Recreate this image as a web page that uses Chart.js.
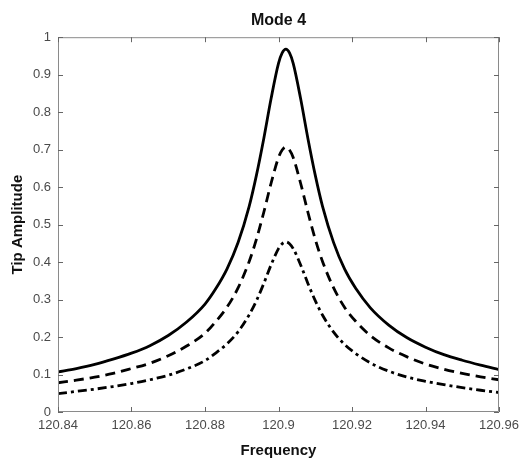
<!DOCTYPE html>
<html>
<head>
<meta charset="utf-8">
<script src="https://cdn.jsdelivr.net/npm/chart.js@4/dist/chart.umd.min.js"></script>
<style>
html,body{margin:0;padding:0;background:#fff;}
#wrap{width:531px;height:463px;}
</style>
</head>
<body>
<div id="wrap"><canvas id="c" width="531" height="463"></canvas></div>
<script>
const frequency = [120.84,120.845,120.85,120.855,120.86,120.865,120.87,120.875,120.88,120.883,120.886,120.889,120.892,120.894,120.896,120.898,120.9,120.901,120.902,120.903,120.904,120.906,120.908,120.91,120.912,120.915,120.918,120.921,120.925,120.93,120.935,120.94,120.945,120.95,120.955,120.96];
const solidAmp   = [0.107,0.116,0.127,0.141,0.157,0.177,0.204,0.240,0.288,0.330,0.382,0.452,0.548,0.632,0.730,0.837,0.930,0.958,0.968,0.958,0.930,0.837,0.730,0.632,0.548,0.452,0.381,0.330,0.278,0.232,0.198,0.173,0.153,0.138,0.125,0.113];
const dashedAmp  = [0.078,0.085,0.093,0.103,0.116,0.130,0.150,0.176,0.210,0.242,0.280,0.331,0.401,0.461,0.533,0.611,0.679,0.699,0.707,0.699,0.679,0.611,0.533,0.461,0.401,0.331,0.279,0.242,0.204,0.171,0.147,0.128,0.114,0.103,0.094,0.086];
const dashDotAmp = [0.049,0.055,0.061,0.068,0.076,0.086,0.098,0.115,0.137,0.158,0.182,0.214,0.259,0.297,0.343,0.393,0.436,0.449,0.454,0.449,0.436,0.393,0.343,0.297,0.258,0.213,0.180,0.156,0.131,0.109,0.093,0.082,0.073,0.065,0.058,0.052];
const xTicks = [120.84,120.86,120.88,120.9,120.92,120.94,120.96];
const yTicks = [0,0.1,0.2,0.3,0.4,0.5,0.6,0.7,0.8,0.9,1];

function pts(arr){ return frequency.map((f,i)=>({x:f,y:arr[i]})); }

const boxPlugin = {
  id:'box',
  afterDraw(chart){
    const {ctx, chartArea:a, scales:{x,y}} = chart;
    ctx.save();
    ctx.strokeStyle = '#8a8a8a';
    ctx.lineWidth = 1;
    ctx.beginPath();
    ctx.rect(a.left+0.5, a.top+0.5, a.right-a.left-1, a.bottom-a.top-1);
    ctx.stroke();
    ctx.strokeStyle = '#666';
    ctx.beginPath();
    const L = 5;
    x.ticks.forEach(t=>{
      const px = Math.round(x.getPixelForValue(t.value))+0.5;
      ctx.moveTo(px,a.bottom); ctx.lineTo(px,a.bottom-L);
      ctx.moveTo(px,a.top); ctx.lineTo(px,a.top+L);
    });
    y.ticks.forEach(t=>{
      const py = Math.round(y.getPixelForValue(t.value))+0.5;
      ctx.moveTo(a.left,py); ctx.lineTo(a.left+L,py);
      ctx.moveTo(a.right,py); ctx.lineTo(a.right-L,py);
    });
    ctx.stroke();
    ctx.restore();
  }
};

const lw = 2.8;
const FONT = 'Liberation Sans, Arial, sans-serif';
new Chart(document.getElementById('c'), {
  type:'line',
  data:{
    datasets:[
      {data:pts(solidAmp), borderColor:'#000', borderWidth:lw, pointRadius:0, cubicInterpolationMode:'monotone', fill:false},
      {data:pts(dashedAmp), borderColor:'#000', borderWidth:lw, borderDash:[10,6], pointRadius:0, cubicInterpolationMode:'monotone', fill:false},
      {data:pts(dashDotAmp), borderColor:'#000', borderWidth:lw, borderDash:[9,4,3,4], pointRadius:0, cubicInterpolationMode:'monotone', fill:false}
    ]
  },
  options:{
    responsive:false,
    animation:false,
    devicePixelRatio:1,
    layout:{padding:{left:0,right:32,top:0,bottom:0}},
    plugins:{
      legend:{display:false},
      tooltip:{enabled:false},
      title:{display:true, text:'Mode 4', fullSize:false, color:'#111',
        font:{family:FONT, size:16, weight:'bold'},
        padding:{top:11,bottom:7}}
    },
    scales:{
      x:{type:'linear', min:120.84, max:120.96,
        afterBuildTicks(s){ s.ticks = xTicks.map(v=>({value:v})); },
        afterFit(s){ s.height = 51; },
        grid:{display:false, drawTicks:false},
        border:{display:false},
        ticks:{padding:6, color:'#4a4a4a', maxRotation:0, autoSkip:false,
          font:{family:FONT, size:13},
          callback:(v)=>String(Math.round(v*100)/100)},
        title:{display:true, text:'Frequency', color:'#111',
          font:{family:FONT, size:15, weight:'bold'},
          padding:{top:0,bottom:3}}
      },
      y:{type:'linear', min:0, max:1,
        afterBuildTicks(s){ s.ticks = yTicks.map(v=>({value:v})); },
        afterFit(s){ s.width = 58; },
        grid:{display:false, drawTicks:false},
        border:{display:false},
        ticks:{padding:7, color:'#4a4a4a', autoSkip:false,
          font:{family:FONT, size:13},
          callback:(v)=>String(Math.round(v*10)/10)},
        title:{display:true, text:'Tip Amplitude', color:'#111',
          font:{family:FONT, size:15, weight:'bold'},
          padding:{top:9,bottom:0}}
      }
    }
  },
  plugins:[boxPlugin]
});
</script>
</body>
</html>
